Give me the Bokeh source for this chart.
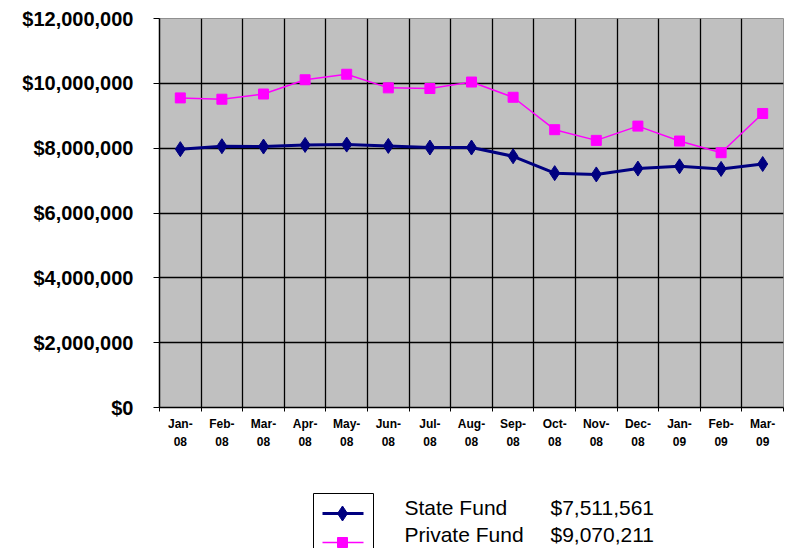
from bokeh.plotting import figure
from bokeh.layouts import column
from bokeh.models import Range1d, FixedTicker, NumeralTickFormatter
from bokeh.core.properties import value
from bokeh.embed import file_html
from bokeh.resources import INLINE

# ---- data ----
months = ["Jan-08", "Feb-08", "Mar-08", "Apr-08", "May-08", "Jun-08", "Jul-08",
          "Aug-08", "Sep-08", "Oct-08", "Nov-08", "Dec-08", "Jan-09", "Feb-09", "Mar-09"]
state_fund = [7970000, 8060000, 8050000, 8100000, 8110000, 8070000, 8020000,
              8020000, 7750000, 7230000, 7190000, 7370000, 7440000, 7360000, 7511561]
private_fund = [9550000, 9510000, 9670000, 10110000, 10280000, 9860000, 9840000,
                10040000, 9570000, 8570000, 8240000, 8680000, 8220000, 7860000, 9070211]
y_ticks = [0, 2000000, 4000000, 6000000, 8000000, 10000000, 12000000]
series_names = ["State Fund", "Private Fund"]
series_colors = ["#000080", "#ff00ff"]
series_markers = ["diamond", "square"]
series_widths = [3, 1.5]
series_sizes = [15, 10]

n = len(months)
xs = [i + 0.5 for i in range(n)]

W, H_MAIN, H_LEG = 790, 470, 78
BL, BR = 159, 7

p = figure(width=W, height=H_MAIN, output_backend="svg", toolbar_location=None,
           x_range=Range1d(0, n), y_range=Range1d(y_ticks[0], y_ticks[-1]),
           min_border_left=BL, min_border_right=BR, min_border_top=18,
           min_border_bottom=63)
p.background_fill_color = "#c0c0c0"
p.border_fill_color = "white"
p.outline_line_color = "#909090"
p.outline_line_width = 1

# x axis
p.xaxis.ticker = FixedTicker(ticks=xs, minor_ticks=list(range(0, n + 1)))
p.xaxis.major_label_overrides = {x: m.replace("-", "-\n") for x, m in zip(xs, months)}
p.xaxis.major_tick_out = 0
p.xaxis.major_tick_in = 0
p.xaxis.minor_tick_out = 4
p.xaxis.minor_tick_in = 0
p.xaxis.minor_tick_line_color = "black"
p.xaxis.axis_line_color = "black"
p.xaxis.axis_line_width = 1.5
p.xaxis.major_label_text_font = "Liberation Sans"
p.xaxis.major_label_text_font_style = "bold"
p.xaxis.major_label_text_font_size = "12px"
p.xaxis.major_label_text_color = "black"
p.xaxis.major_label_standoff = 5
p.xaxis.major_label_text_line_height = 1.3

# y axis
p.yaxis.ticker = FixedTicker(ticks=y_ticks)
p.yaxis.formatter = NumeralTickFormatter(format="$0,0")
p.yaxis.major_tick_out = 6
p.yaxis.major_tick_in = 0
p.yaxis.minor_tick_out = 0
p.yaxis.minor_tick_in = 0
p.yaxis.axis_line_color = "black"
p.yaxis.axis_line_width = 1.5
p.yaxis.major_label_text_font = "Liberation Sans"
p.yaxis.major_label_text_font_style = "bold"
p.yaxis.major_label_text_font_size = "20px"
p.yaxis.major_label_text_color = "black"
p.yaxis.major_label_standoff = 20

# grids
p.xgrid.ticker = FixedTicker(ticks=list(range(1, n)))
p.xgrid.grid_line_color = "black"
p.xgrid.grid_line_width = 1.3
p.ygrid.ticker = FixedTicker(ticks=y_ticks)
p.ygrid.grid_line_color = "black"
p.ygrid.grid_line_width = 1.3

# series
for vals, col, mk, lw, sz in zip([state_fund, private_fund], series_colors,
                                 series_markers, series_widths, series_sizes):
    p.line(xs, vals, line_color=col, line_width=lw)
    p.scatter(xs, vals, marker=mk, size=sz, fill_color=col, line_color=col)

# ---- legend strip (page-pixel coordinates: x left->right, y top->bottom) ----
leg = figure(width=W, height=H_LEG, output_backend="svg", toolbar_location=None,
             x_range=Range1d(BL, W - BR), y_range=Range1d(H_MAIN + H_LEG, H_MAIN),
             min_border_left=BL, min_border_right=BR,
             min_border_top=0, min_border_bottom=0)
leg.axis.visible = False
leg.grid.visible = False
leg.outline_line_color = None
leg.background_fill_color = "white"
leg.border_fill_color = "white"

box_l, box_r, box_t = 313, 373, 493
row_y = [513, 542]
text_y = [507, 534]
leg.quad(left=[box_l], right=[box_r], top=[box_t], bottom=[H_MAIN + H_LEG + 10],
         fill_color="white", line_color="black", line_width=1)
amounts = ["${:,}".format(state_fund[-1]), "${:,}".format(private_fund[-1])]
for i, (name, amt) in enumerate(zip(series_names, amounts)):
    yy = row_y[i]
    leg.line([322, 363], [yy, yy], line_color=series_colors[i], line_width=series_widths[i])
    leg.scatter([342], [yy], marker=series_markers[i], size=series_sizes[i],
                fill_color=series_colors[i], line_color=series_colors[i])
    leg.text([404], [text_y[i]], text=[name], text_font=value("Liberation Sans"),
             text_font_size="21px", text_color="black", text_baseline="middle")
    leg.text([550], [text_y[i]], text=[amt], text_font=value("Liberation Sans"),
             text_font_size="21px", text_color="black", text_baseline="middle")

layout = column(p, leg, spacing=0)
open("out.html", "w").write(file_html(layout, INLINE))
